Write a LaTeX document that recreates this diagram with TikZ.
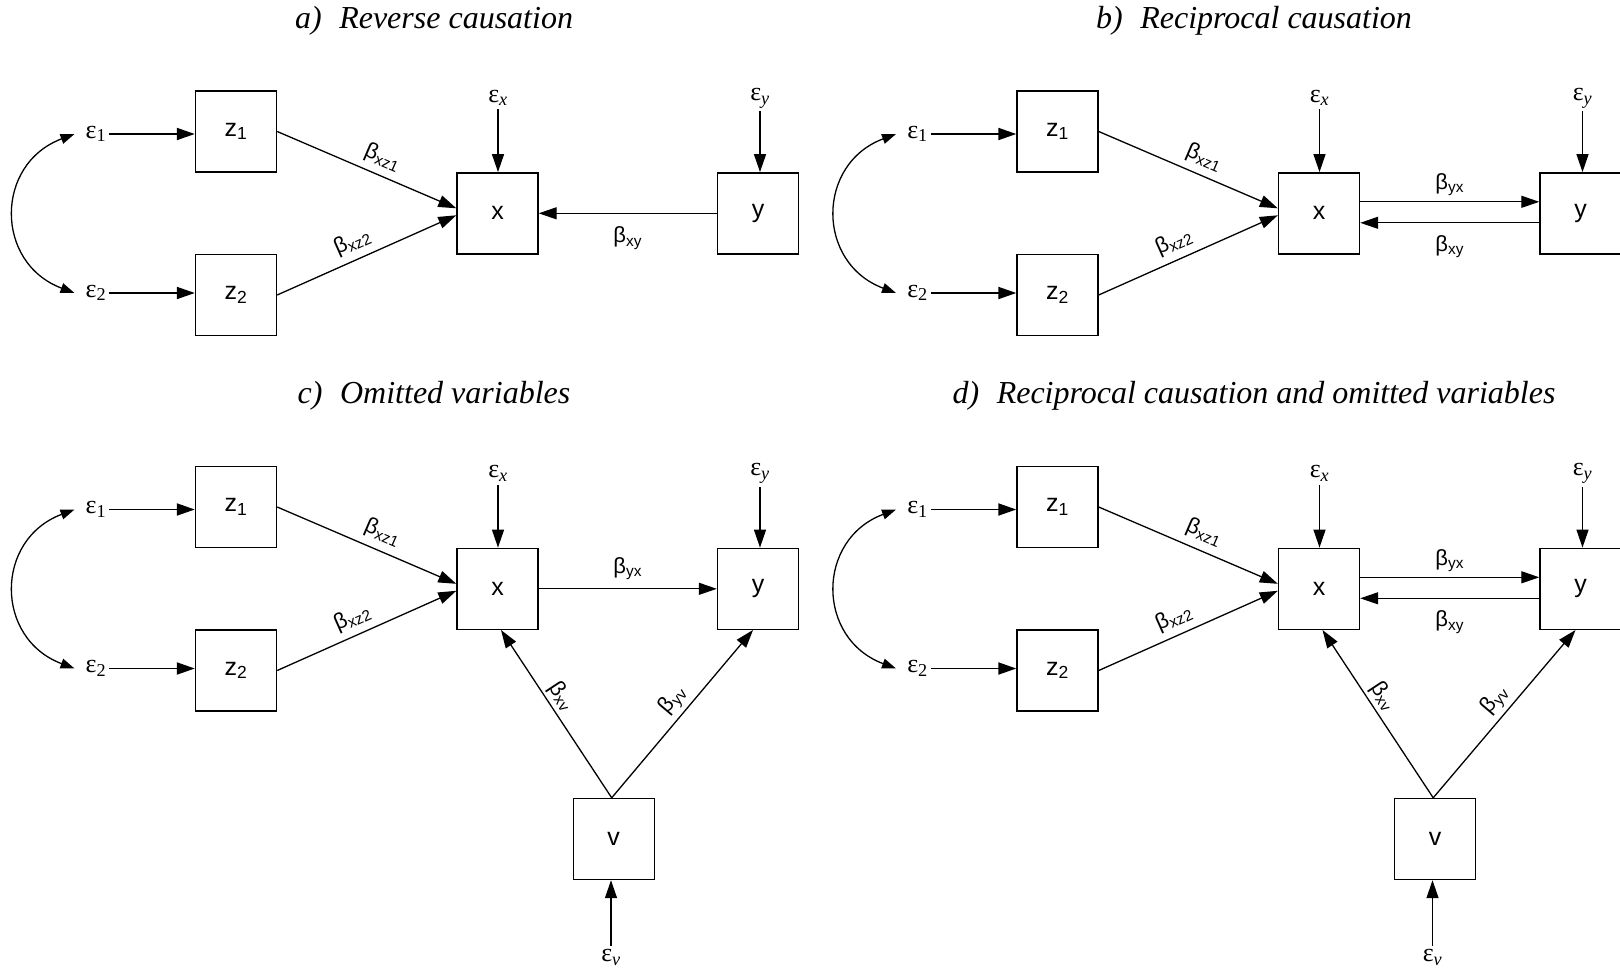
\documentclass[tikz,border=0pt]{standalone}
\usepackage{fontspec}
\setmainfont{Liberation Serif}
\setsansfont{Liberation Sans}
\usetikzlibrary{arrows.meta,calc}

\tikzset{
  box/.style={draw, line width=1.4pt, minimum width=81pt, minimum height=81pt,
    inner sep=0pt, font=\sffamily\fontsize{25}{25}\selectfont},
  err/.style={inner sep=3pt, font=\fontsize{26}{26}\selectfont},
  coef/.style={inner sep=1pt, font=\sffamily\fontsize{22}{22}\selectfont},
  ttl/.style={font=\itshape\fontsize{32}{32}\selectfont},
  link/.style={line width=1.3pt, -{Triangle[length=18pt,width=12pt]}},
  boldlink/.style={line width=1.9pt, -{Triangle[length=18pt,width=12pt]}},
  cov/.style={line width=1.3pt, {Triangle[length=14pt,width=10pt]}-{Triangle[length=14pt,width=10pt]}}
}

% instruments z1, z2 with correlated errors, feeding x
\newcommand\semcore{%
  \node[err] (e1) at (96,134) {ε\textsubscript{1}};
  \node[err] (e2) at (96,293) {ε\textsubscript{2}};
  \node[box] (z1) at (236,131.5) {z\textsubscript{1}};
  \node[box] (z2) at (236,295) {z\textsubscript{2}};
  \node[box] (x) at (497.5,213.3) {x};
  \node[err] (ex) at (498,98) {ε\textsubscript{\itshape x}};
  \draw[boldlink] (e1) -- (e1 -| z1.west);
  \draw[boldlink] (e2) -- (e2 -| z2.west);
  \draw[cov] ([xshift=-8pt]e1.west) .. controls +(-80,30) and +(-80,-30) .. ([xshift=-8pt]e2.west);
  \draw[link] (ex) -- (ex |- x.north);
  \draw[link] (z1.east) -- ([yshift=5pt]x.west)
    node[coef, sloped, pos=.55, above=6pt] {β\textsubscript{xz1}};
  \draw[link] (z2.east) -- ([yshift=-2pt]x.west)
    node[coef, sloped, pos=.46, above=6pt] {β\textsubscript{xz2}};
}

% outcome y with its error term
\newcommand\outcome[1]{%
  \node[box] (y) at (#1,213.3) {y};
  \node[err] (ey) at (#1+2,98) {ε\textsubscript{\itshape y}};
  \draw[link] (ey) -- (ey |- y.north);
}

% omitted variable v acting on x and y
\newcommand\omitted{%
  \node[box] (v) at (613.7,463.5) {v};
  \node[err] (ev) at (611,582) {ε\textsubscript{\itshape v}};
  \draw[link] (ev) -- (ev |- v.south);
  \draw[link] ([xshift=-2pt]v.north) -- ([xshift=3.5pt]x.south)
    node[coef, sloped, pos=.56, above=2pt] {β\textsubscript{xv}};
  \draw[link] ([xshift=-2pt]v.north) -- ([xshift=-5pt]y.south)
    node[coef, sloped, pos=.52, above=3pt] {β\textsubscript{yv}};
}

% feedback loop between x and y
\newcommand\feedback{%
  \draw[link] ([yshift=11.5pt]x.east) -- ([yshift=11.5pt]x.east -| y.west)
    node[coef, midway, above=4pt] {β\textsubscript{yx}};
  \draw[link] ([yshift=-9.5pt]y.west) -- ([yshift=-9.5pt]y.west -| x.east)
    node[coef, midway, below=11pt] {β\textsubscript{xy}};
}

\begin{document}
\begin{tikzpicture}[x=1pt,y=-1pt]
  \fill[white] (0,0) rectangle (1620,972);
  \useasboundingbox (0,0) rectangle (1620,972);

  \node[ttl] (ta) at (434,21) {a)\hspace{0.55em}Reverse causation};
  \node[ttl] (tb) at (1254,21) {b)\hspace{0.55em}Reciprocal causation};
  \node[ttl] (tc) at (434,396) {c)\hspace{0.55em}Omitted variables};
  \node[ttl] (td) at (1254,396) {d)\hspace{0.55em}Reciprocal causation and omitted variables};

  % a) reverse causation
  \begin{scope}[name prefix=a-]
    \semcore
    \outcome{758}
    \draw[link] (y) -- (x) node[coef, midway, below=12pt] {β\textsubscript{xy}};
  \end{scope}

  % b) reciprocal causation
  \begin{scope}[shift={(821.5,0)}, name prefix=b-]
    \semcore
    \outcome{759}
    \feedback
  \end{scope}

  % c) omitted variables
  \begin{scope}[shift={(0,375.5)}, name prefix=c-]
    \semcore
    \outcome{758}
    \draw[link] (x) -- (y) node[coef, midway, above=7pt] {β\textsubscript{yx}};
    \omitted
  \end{scope}

  % d) reciprocal causation and omitted variables
  \begin{scope}[shift={(821.5,375.5)}, name prefix=d-]
    \semcore
    \outcome{759}
    \feedback
    \omitted
  \end{scope}
\end{tikzpicture}
\end{document}
